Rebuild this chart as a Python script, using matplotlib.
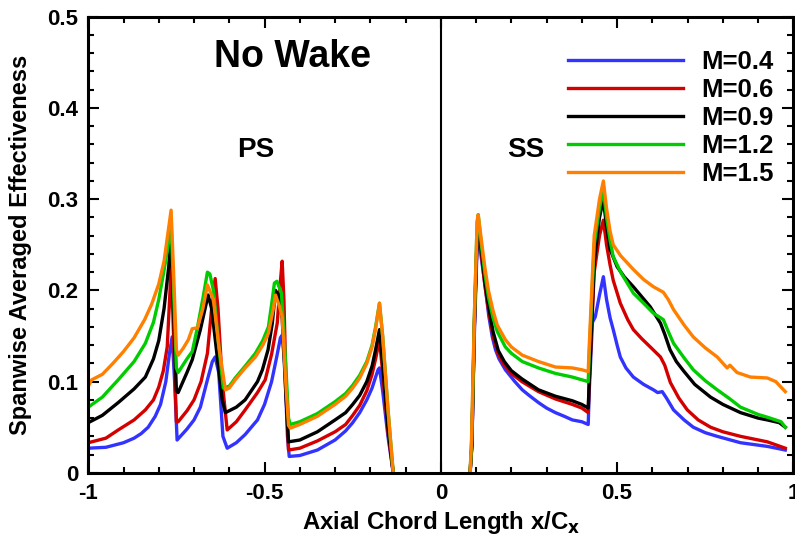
import matplotlib.pyplot as plt
from matplotlib.ticker import MultipleLocator

plt.rcParams["font.family"] = ["Liberation Sans", "DejaVu Sans"]
plt.rcParams["font.weight"] = "bold"
plt.rcParams["mathtext.default"] = "bf"

labels = ["M=0.4", "M=0.6", "M=0.9", "M=1.2", "M=1.5"]
colors = ["#3333ff", "#d40000", "#000000", "#00cc00", "#ff8000"]

# pressure side (PS), x/Cx < 0
ps_x_04 = [-1.0, -0.95, -0.9, -0.87, -0.85, -0.83, -0.81, -0.795, -0.78, -0.77, -0.762,
           -0.755, -0.748, -0.72, -0.7, -0.682, -0.662, -0.648, -0.64, -0.63, -0.618,
           -0.606, -0.58, -0.555, -0.52, -0.5, -0.48, -0.465, -0.455, -0.45, -0.443,
           -0.435, -0.43, -0.4, -0.35, -0.3, -0.27, -0.25, -0.23, -0.21, -0.195, -0.185,
           -0.178, -0.174, -0.165, -0.15, -0.135]
ps_y_04 = [0.027, 0.028, 0.033, 0.038, 0.043, 0.05, 0.062, 0.075, 0.1, 0.13, 0.149,
           0.1, 0.036, 0.048, 0.058, 0.072, 0.102, 0.122, 0.127, 0.11, 0.04,
           0.027, 0.033, 0.042, 0.058, 0.075, 0.1, 0.128, 0.148, 0.151, 0.12,
           0.04, 0.018, 0.019, 0.025, 0.036, 0.046, 0.055, 0.066, 0.08, 0.093, 0.105,
           0.113, 0.115, 0.09, 0.04, 0.0]

ps_x_06 = [-1.0, -0.95, -0.915, -0.87, -0.838, -0.815, -0.8, -0.787, -0.776, -0.768,
           -0.765, -0.758, -0.75, -0.745, -0.72, -0.7, -0.68, -0.662, -0.65, -0.64,
           -0.632, -0.62, -0.606, -0.58, -0.555, -0.52, -0.498, -0.48, -0.464, -0.455,
           -0.45, -0.445, -0.438, -0.432, -0.4, -0.35, -0.3, -0.27, -0.25, -0.23, -0.21,
           -0.195, -0.185, -0.174, -0.165, -0.15, -0.135]
ps_y_06 = [0.033, 0.038, 0.047, 0.058, 0.069, 0.08, 0.094, 0.112, 0.138, 0.2,
           0.231, 0.15, 0.056, 0.056, 0.068, 0.08, 0.1, 0.131, 0.18, 0.213,
           0.18, 0.1, 0.047, 0.056, 0.069, 0.088, 0.102, 0.13, 0.164, 0.21,
           0.232, 0.19, 0.08, 0.025, 0.027, 0.035, 0.045, 0.053, 0.063, 0.074, 0.09,
           0.108, 0.125, 0.146, 0.11, 0.045, 0.0]

ps_x_09 = [-1.0, -0.96, -0.915, -0.87, -0.838, -0.815, -0.8, -0.785, -0.772, -0.765,
           -0.758, -0.75, -0.745, -0.72, -0.705, -0.682, -0.66, -0.65, -0.635, -0.62,
           -0.611, -0.58, -0.555, -0.52, -0.506, -0.49, -0.478, -0.469, -0.46, -0.45,
           -0.44, -0.432, -0.4, -0.35, -0.3, -0.27, -0.25, -0.23, -0.21, -0.195, -0.185,
           -0.174, -0.165, -0.15, -0.135]
ps_y_09 = [0.055, 0.063, 0.077, 0.092, 0.105, 0.125, 0.145, 0.18, 0.225, 0.26,
           0.18, 0.09, 0.088, 0.11, 0.124, 0.157, 0.195, 0.18, 0.13, 0.08,
           0.066, 0.072, 0.08, 0.1, 0.113, 0.135, 0.164, 0.2, 0.195, 0.17,
           0.09, 0.034, 0.036, 0.045, 0.058, 0.066, 0.075, 0.085, 0.1, 0.117, 0.135,
           0.157, 0.12, 0.05, 0.0]

ps_x_12 = [-1.0, -0.96, -0.915, -0.87, -0.838, -0.815, -0.8, -0.785, -0.772, -0.765,
           -0.758, -0.75, -0.745, -0.72, -0.705, -0.69, -0.674, -0.662, -0.655, -0.645,
           -0.63, -0.617, -0.6, -0.583, -0.555, -0.526, -0.505, -0.489, -0.478, -0.472,
           -0.465, -0.452, -0.44, -0.432, -0.427, -0.4, -0.35, -0.3, -0.27, -0.25, -0.23,
           -0.21, -0.195, -0.185, -0.174, -0.165, -0.15, -0.135]
ps_y_12 = [0.072, 0.083, 0.102, 0.122, 0.142, 0.165, 0.19, 0.222, 0.253, 0.275,
           0.2, 0.115, 0.11, 0.125, 0.133, 0.16, 0.193, 0.22, 0.218, 0.2,
           0.14, 0.093, 0.095, 0.104, 0.117, 0.131, 0.145, 0.16, 0.19, 0.208,
           0.21, 0.197, 0.12, 0.06, 0.053, 0.056, 0.065, 0.078, 0.087, 0.096, 0.107,
           0.122, 0.14, 0.16, 0.186, 0.15, 0.07, 0.0]

ps_x_15 = [-1.0, -0.99, -0.96, -0.93, -0.9, -0.87, -0.84, -0.82, -0.8, -0.785, -0.775,
           -0.765, -0.758, -0.75, -0.745, -0.73, -0.716, -0.705, -0.69, -0.675, -0.662,
           -0.645, -0.63, -0.611, -0.6, -0.583, -0.555, -0.526, -0.505, -0.489, -0.475,
           -0.469, -0.458, -0.45, -0.44, -0.432, -0.427, -0.4, -0.35, -0.3, -0.27, -0.25,
           -0.23, -0.21, -0.195, -0.185, -0.174, -0.165, -0.15, -0.135]
ps_y_15 = [0.095, 0.102, 0.108, 0.12, 0.133, 0.148, 0.168, 0.185, 0.207, 0.232, 0.26,
           0.288, 0.22, 0.135, 0.129, 0.137, 0.146, 0.158, 0.159, 0.18, 0.206,
           0.19, 0.14, 0.091, 0.093, 0.102, 0.115, 0.127, 0.14, 0.153, 0.18,
           0.195, 0.183, 0.171, 0.1, 0.052, 0.049, 0.053, 0.062, 0.075, 0.084, 0.093,
           0.104, 0.12, 0.138, 0.158, 0.186, 0.15, 0.07, 0.0]

# suction side (SS), x/Cx > 0
ss_x_04 = [0.083, 0.088, 0.095, 0.103, 0.106, 0.115, 0.126, 0.136, 0.146, 0.155, 0.165,
           0.183, 0.21, 0.231, 0.25, 0.277, 0.3, 0.325, 0.35, 0.373, 0.4, 0.418,
           0.421, 0.43, 0.438, 0.45, 0.461, 0.47, 0.48, 0.489, 0.5, 0.509, 0.525,
           0.546, 0.575, 0.603, 0.615, 0.628, 0.64, 0.66, 0.69, 0.716, 0.75, 0.784,
           0.85, 0.926, 0.977]
ss_y_04 = [0.0, 0.03, 0.15, 0.25, 0.265, 0.235, 0.204, 0.172, 0.149, 0.135, 0.125,
           0.113, 0.1, 0.091, 0.085, 0.077, 0.071, 0.066, 0.062, 0.058, 0.056, 0.053,
           0.09, 0.165, 0.171, 0.195, 0.215, 0.19, 0.17, 0.157, 0.14, 0.127, 0.115,
           0.105, 0.097, 0.091, 0.088, 0.089, 0.082, 0.069, 0.058, 0.05, 0.044, 0.04,
           0.033, 0.029, 0.025]

ss_x_06 = [0.083, 0.088, 0.095, 0.103, 0.106, 0.115, 0.125, 0.135, 0.148, 0.163, 0.18,
           0.2, 0.23, 0.277, 0.325, 0.373, 0.4, 0.418, 0.421, 0.435, 0.45, 0.461,
           0.47, 0.48, 0.489, 0.509, 0.53, 0.546, 0.57, 0.594, 0.623, 0.635, 0.651,
           0.675, 0.699, 0.73, 0.765, 0.8, 0.85, 0.926, 0.977]
ss_y_06 = [0.0, 0.03, 0.16, 0.26, 0.272, 0.24, 0.205, 0.179, 0.15, 0.13, 0.118,
           0.109, 0.1, 0.089, 0.081, 0.075, 0.071, 0.066, 0.1, 0.22, 0.26, 0.277,
           0.25, 0.228, 0.211, 0.186, 0.168, 0.157, 0.147, 0.138, 0.127, 0.118, 0.099,
           0.082, 0.069, 0.058, 0.05, 0.045, 0.04, 0.034, 0.027]

ss_x_09 = [0.083, 0.088, 0.095, 0.103, 0.106, 0.115, 0.125, 0.135, 0.148, 0.163, 0.18,
           0.2, 0.23, 0.277, 0.325, 0.373, 0.4, 0.418, 0.421, 0.435, 0.45, 0.461,
           0.47, 0.48, 0.5, 0.52, 0.546, 0.57, 0.594, 0.623, 0.635, 0.65, 0.668,
           0.688, 0.72, 0.765, 0.8, 0.85, 0.9, 0.926, 0.96, 0.977]
ss_y_09 = [0.0, 0.03, 0.16, 0.26, 0.27, 0.245, 0.21, 0.184, 0.155, 0.134, 0.122,
           0.112, 0.103, 0.091, 0.084, 0.079, 0.075, 0.071, 0.1, 0.23, 0.28, 0.3,
           0.27, 0.245, 0.226, 0.215, 0.204, 0.193, 0.182, 0.164, 0.152, 0.135, 0.122,
           0.112, 0.097, 0.083, 0.075, 0.066, 0.06, 0.058, 0.055, 0.05]

ss_x_12 = [0.083, 0.088, 0.095, 0.103, 0.106, 0.115, 0.125, 0.135, 0.148, 0.16, 0.183,
           0.2, 0.231, 0.277, 0.325, 0.373, 0.4, 0.418, 0.421, 0.435, 0.45, 0.461,
           0.47, 0.48, 0.489, 0.51, 0.546, 0.575, 0.603, 0.631, 0.645, 0.66, 0.69,
           0.716, 0.75, 0.784, 0.82, 0.85, 0.9, 0.926, 0.965, 0.977]
ss_y_12 = [0.0, 0.04, 0.17, 0.275, 0.283, 0.25, 0.218, 0.193, 0.17, 0.155, 0.138,
           0.131, 0.122, 0.115, 0.109, 0.105, 0.102, 0.1, 0.13, 0.25, 0.29, 0.31,
           0.28, 0.255, 0.237, 0.22, 0.197, 0.186, 0.175, 0.168, 0.155, 0.142, 0.126,
           0.113, 0.101, 0.091, 0.081, 0.072, 0.064, 0.061, 0.056, 0.05]

ss_x_15 = [0.083, 0.087, 0.095, 0.103, 0.106, 0.115, 0.125, 0.135, 0.148, 0.16, 0.183,
           0.2, 0.231, 0.277, 0.325, 0.373, 0.4, 0.418, 0.421, 0.435, 0.45, 0.461,
           0.47, 0.48, 0.489, 0.51, 0.546, 0.575, 0.603, 0.631, 0.645, 0.66, 0.69,
           0.716, 0.75, 0.784, 0.812, 0.82, 0.84, 0.878, 0.926, 0.95, 0.977]
ss_y_15 = [0.0, 0.036, 0.17, 0.275, 0.283, 0.255, 0.225, 0.2, 0.178, 0.162, 0.146,
           0.138, 0.129, 0.122, 0.116, 0.115, 0.113, 0.111, 0.14, 0.26, 0.3, 0.32,
           0.29, 0.265, 0.25, 0.238, 0.223, 0.212, 0.204, 0.198, 0.19, 0.179, 0.162,
           0.149, 0.137, 0.127, 0.115, 0.118, 0.11, 0.105, 0.104, 0.1, 0.089]

ps_x = [ps_x_04, ps_x_06, ps_x_09, ps_x_12, ps_x_15]
ps_y = [ps_y_04, ps_y_06, ps_y_09, ps_y_12, ps_y_15]
ss_x = [ss_x_04, ss_x_06, ss_x_09, ss_x_12, ss_x_15]
ss_y = [ss_y_04, ss_y_06, ss_y_09, ss_y_12, ss_y_15]

fig = plt.figure(figsize=(7.95, 5.41), dpi=100)
ax = fig.add_axes([0.111, 0.126, 0.887, 0.843])

for i in range(len(labels)):
    ax.plot(ps_x[i], ps_y[i], color=colors[i], lw=2.4, label=labels[i])
    ax.plot(ss_x[i], ss_y[i], color=colors[i], lw=2.4)

ax.axvline(0, color="black", lw=1.5)

ax.set_xlim(-1, 1)
ax.set_ylim(0, 0.5)
ax.xaxis.set_minor_locator(MultipleLocator(0.1))
ax.yaxis.set_minor_locator(MultipleLocator(0.02))
ax.set_xticks([-1, -0.5, 0, 0.5, 1])
ax.set_xticklabels(["-1", "-0.5", "0", "0.5", "1"])
ax.set_yticks([0, 0.1, 0.2, 0.3, 0.4, 0.5])
ax.set_yticklabels(["0", "0.1", "0.2", "0.3", "0.4", "0.5"])
ax.tick_params(which="both", direction="in", top=True, right=True,
               labelsize=16, width=1.5)
ax.tick_params(which="major", length=8, pad=7)
ax.tick_params(which="minor", length=4)
for s in ax.spines.values():
    s.set_linewidth(2.2)

ax.set_xlabel("Axial Chord Length x/C$_\\mathbf{x}$", fontsize=17.3, fontweight="bold",
              labelpad=4)
ax.set_ylabel("Spanwise Averaged Effectiveness", fontsize=17, fontweight="bold")
ax.yaxis.set_label_coords(-0.08, 0.5)

ax.text(-0.42, 0.456, "No Wake", fontsize=27, fontweight="bold", ha="center", va="center")
ax.text(-0.525, 0.354, "PS", fontsize=20, fontweight="bold", ha="center", va="center")
ax.text(0.24, 0.354, "SS", fontsize=20, fontweight="bold", ha="center", va="center")

ax.legend(loc="upper right", frameon=False, fontsize=18.5, handlelength=4.5,
          handletextpad=0.7, labelspacing=0.16, borderaxespad=0, borderpad=0,
          bbox_to_anchor=(0.972, 0.928))

fig.savefig("out.png", dpi=100)
